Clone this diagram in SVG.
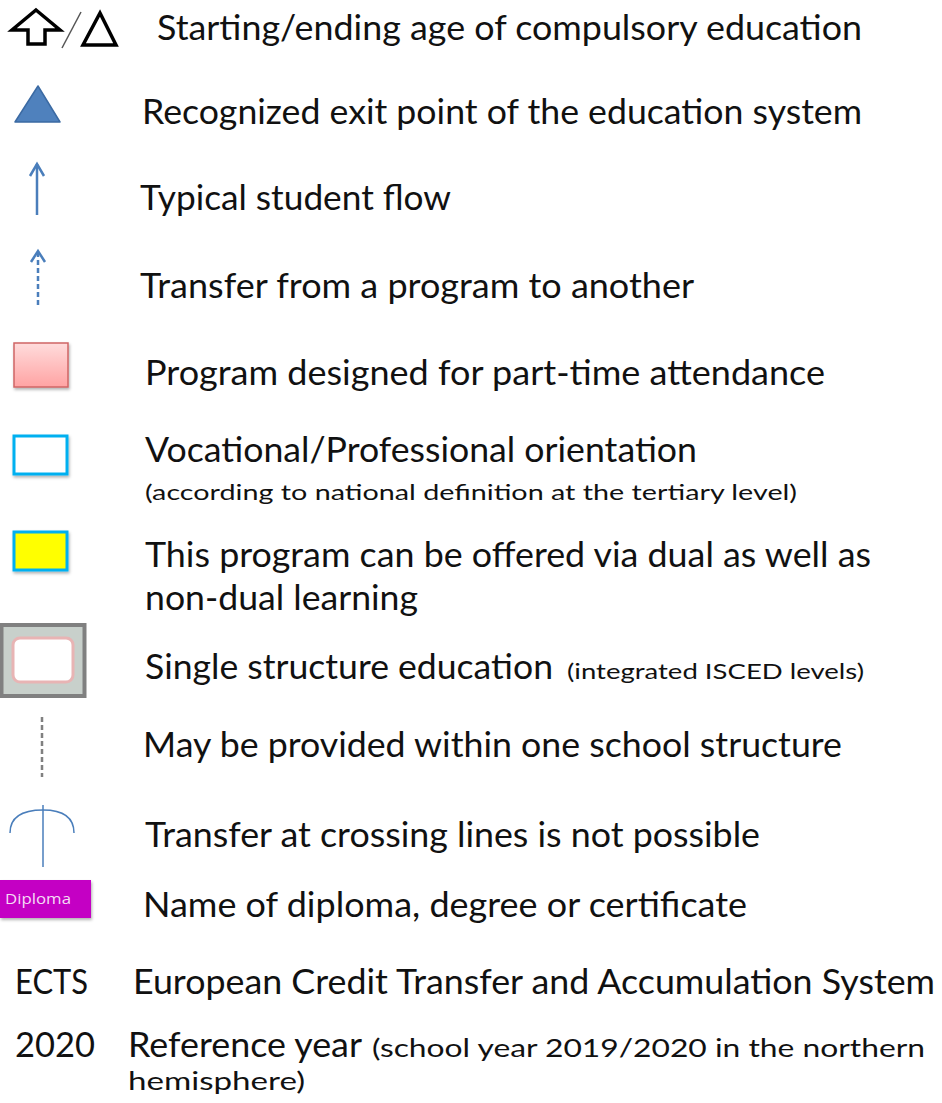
<svg xmlns="http://www.w3.org/2000/svg" width="942" height="1103" viewBox="0 0 942 1103">
<style>
.t{font-family:Lato,"Open Sans","Liberation Sans",sans-serif;font-size:34px;fill:#111}
.s{font-family:Lato,"Open Sans","Liberation Sans",sans-serif;font-size:22px;fill:#111}
.blue{stroke:#4a7ebb;stroke-width:2.5;fill:none}
</style>
<defs>
<linearGradient id="pink" x1="0" y1="0" x2="0" y2="1">
<stop offset="0" stop-color="#ffdcdc"/>
<stop offset="1" stop-color="#ffa3a3"/>
</linearGradient>
<filter id="sh" x="-20%" y="-20%" width="150%" height="150%">
<feDropShadow dx="1" dy="2" stdDeviation="1.5" flood-color="#000" flood-opacity="0.3"/>
</filter>
</defs>
<rect width="942" height="1103" fill="#fff"/>

<g id="compulsory">
<path d="M36,10 L60,30 L45,30 L45,44 L28,44 L28,30 L12,30 Z" fill="none" stroke="#000" stroke-width="3.5" stroke-linejoin="miter"/>
<line x1="62" y1="48" x2="81" y2="12" stroke="#555" stroke-width="1.5"/>
<path d="M100,13 L116,45 L83,45 Z" fill="none" stroke="#000" stroke-width="3.5"/>
<text class="t" x="157" y="40" textLength="705" lengthAdjust="spacingAndGlyphs">Starting/ending age of compulsory education</text>
</g>

<g id="exit">
<path d="M38,86 L60,122 L15,122 Z" fill="#4f81bd" stroke="#3b6aa3" stroke-width="1.5" stroke-linejoin="round"/>
<text class="t" x="142" y="124" textLength="720" lengthAdjust="spacingAndGlyphs">Recognized exit point of the education system</text>
</g>

<g id="flow">
<line x1="37" y1="164" x2="37" y2="215" class="blue"/>
<polyline points="30,176 37,164 44,176" class="blue"/>
<text class="t" x="140" y="210" textLength="311" lengthAdjust="spacingAndGlyphs">Typical student flow</text>
</g>

<g id="transfer">
<line x1="38" y1="252" x2="38" y2="307" class="blue" stroke-dasharray="5,3"/>
<polyline points="31,262 38,251 45,262" class="blue"/>
<text class="t" x="140" y="298" textLength="554" lengthAdjust="spacingAndGlyphs">Transfer from a program to another</text>
</g>

<g id="parttime">
<rect x="14" y="343" width="54" height="44" fill="url(#pink)" stroke="#d06565" stroke-width="1.5" filter="url(#sh)"/>
<text class="t" x="145" y="385" textLength="680" lengthAdjust="spacingAndGlyphs">Program designed for part-time attendance</text>
</g>

<g id="vocational">
<rect x="14" y="436" width="53" height="38" fill="#fff" stroke="#00b0f0" stroke-width="3" filter="url(#sh)"/>
<text class="t" x="145" y="462" textLength="552" lengthAdjust="spacingAndGlyphs">Vocational/Professional orientation</text>
<text class="s" x="145" y="500" textLength="652" lengthAdjust="spacingAndGlyphs">(according to national definition at the tertiary level)</text>
</g>

<g id="dual">
<rect x="14" y="532" width="53" height="38" fill="#ffff00" stroke="#00b0f0" stroke-width="3" filter="url(#sh)"/>
<text class="t" x="145" y="567" textLength="726" lengthAdjust="spacingAndGlyphs">This program can be offered via dual as well as</text>
<text class="t" x="145" y="610" textLength="273" lengthAdjust="spacingAndGlyphs">non-dual learning</text>
</g>

<g id="single">
<rect x="1.5" y="625" width="83" height="71" fill="#c8d0cb" stroke="#808080" stroke-width="4"/>
<rect x="13" y="638" width="60" height="44" rx="7" fill="#fff" stroke="#e8b4b4" stroke-width="3"/>
<text class="t" x="145" y="679" textLength="408" lengthAdjust="spacingAndGlyphs">Single structure education</text>
<text class="s" x="567" y="679" textLength="297" lengthAdjust="spacingAndGlyphs">(integrated ISCED levels)</text>
</g>

<g id="oneschool">
<line x1="42" y1="717" x2="42" y2="777" stroke="#808080" stroke-width="2.5" stroke-dasharray="5,3"/>
<text class="t" x="143" y="757" textLength="699" lengthAdjust="spacingAndGlyphs">May be provided within one school structure</text>
</g>

<g id="crossing">
<line x1="43" y1="805" x2="43" y2="867" stroke="#4a7ebb" stroke-width="1.5"/>
<path d="M10,833 Q10,810 43,810 Q74,810 74,833" fill="none" stroke="#4a7ebb" stroke-width="1.5"/>
<text class="t" x="145" y="847" textLength="615" lengthAdjust="spacingAndGlyphs">Transfer at crossing lines is not possible</text>
</g>

<g id="diploma">
<rect x="0" y="880" width="91" height="38" fill="#c400c4" filter="url(#sh)"/>
<text x="5" y="904" font-family="'Open Sans','DejaVu Sans',sans-serif" font-size="14" fill="#f4dcf4" textLength="66" lengthAdjust="spacingAndGlyphs">Diploma</text>
<text class="t" x="143" y="917" textLength="604" lengthAdjust="spacingAndGlyphs">Name of diploma, degree or certificate</text>
</g>

<g id="ects">
<text class="t" x="15" y="994" textLength="73" lengthAdjust="spacingAndGlyphs">ECTS</text>
<text class="t" x="133" y="994" textLength="802" lengthAdjust="spacingAndGlyphs">European Credit Transfer and Accumulation System</text>
</g>

<g id="year">
<text class="t" x="15" y="1057" textLength="80" lengthAdjust="spacingAndGlyphs">2020</text>
<text class="t" x="128" y="1057" textLength="234" lengthAdjust="spacingAndGlyphs">Reference year</text>
<text class="s" x="372" y="1057" textLength="553" lengthAdjust="spacingAndGlyphs" style="font-size:25px">(school year 2019/2020 in the northern</text>
<text class="s" x="128" y="1090" style="font-size:25px" textLength="177" lengthAdjust="spacingAndGlyphs">hemisphere)</text>
</g>
</svg>
